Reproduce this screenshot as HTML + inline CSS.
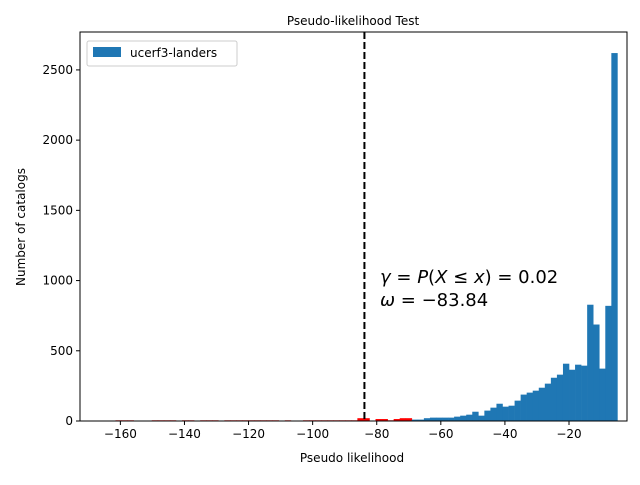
<!DOCTYPE html>
<html><head><meta charset="utf-8"><style>
body{margin:0;background:#fff;}
svg text{font-family:"DejaVu Sans","Liberation Sans",sans-serif;}
</style></head><body>
<svg id="chart" width="640" height="480" xmlns="http://www.w3.org/2000/svg"></svg>
<script>
const counts=[0,5,5,5,0,0,0,5,5,5,5,0,5,5,0,5,5,5,0,5,5,5,5,5,5,5,5,5,0,5,0,0,5,5,5,5,5,5,5,5,5,20,20,0,14,14,5,14,20,20,10,10,20,24,24,24,24,31,38,45,66,38,74,95,123,102,109,145,188,202,216,237,266,308,330,408,365,401,394,828,687,373,820,2620];
const binRight=-4.9;
const binWidth=1.887;
const redThreshold=-70;
const xTicks=[-160,-140,-120,-100,-80,-60,-40,-20];
const yTicks=[0,500,1000,1500,2000,2500];
const observed=-83.84;
const NS="http://www.w3.org/2000/svg";
const svg=document.getElementById('chart');
const L=80,R=627,T=32,B=421;
const xmin=-172.6,xmax=-1.9,ymax=2770;
const sx=v=>L+(v-xmin)/(xmax-xmin)*(R-L);
const sy=v=>B-v/ymax*(B-T);
function mk(tag,attrs,parent){const e=document.createElementNS(NS,tag);for(const k in attrs)e.setAttribute(k,attrs[k]);(parent||svg).appendChild(e);return e;}
const n=counts.length;
counts.forEach((c,i)=>{
  const x0=binRight-(n-i)*binWidth,x1=x0+binWidth;
  if(c<=0)return;
  const r=mk('rect',{x:sx(x0),y:sy(c),width:sx(x1)-sx(x0)+0.3,height:sy(0)-sy(c),fill:x0<redThreshold?'#ff0000':'#1f77b4'});
  
  
});
const vl=mk('line',{x1:sx(observed),x2:sx(observed),y1:T,y2:B,stroke:'#000','stroke-width':2,'stroke-dasharray':'7,3'});


const frame=mk('rect',{x:L,y:T,width:R-L,height:B-T,fill:'none',stroke:'#000','stroke-width':1});


xTicks.forEach(t=>{
  const x=sx(t);
  mk('line',{x1:x,x2:x,y1:B,y2:B+4,stroke:'#000'});
  const tx=mk('text',{x:x,y:B+17,'text-anchor':'middle','font-size':12});
  tx.textContent='\u2212'+Math.abs(t);
  
  
});
yTicks.forEach(t=>{
  const y=sy(t);
  mk('line',{x1:L-4,x2:L,y1:y,y2:y,stroke:'#000'});
  const tx=mk('text',{x:L-7,y:y+4,'text-anchor':'end','font-size':12});
  tx.textContent=t;
  
  
});
</script>
<svg width="640" height="480" style="position:absolute;left:0;top:0" xmlns="http://www.w3.org/2000/svg">
<text x="353" y="25" text-anchor="middle" font-size="12" style="font-family:'DejaVu Sans',sans-serif">Pseudo-likelihood Test</text>
<text x="352" y="462" text-anchor="middle" font-size="12" style="font-family:'DejaVu Sans',sans-serif">Pseudo likelihood</text>
<text transform="translate(25,227) rotate(-90)" text-anchor="middle" font-size="12" style="font-family:'DejaVu Sans',sans-serif">Number of catalogs</text>
<g>
<rect x="87" y="41" width="150" height="25" rx="2" fill="#fff" stroke="#ccc"/>
<rect x="93" y="47" width="28" height="10" fill="#1f77b4"/>
<text x="130" y="57" font-size="12" style="font-family:'DejaVu Sans',sans-serif">ucerf3-landers</text>
</g>
<text x="380" y="283" font-size="18" style="font-family:'DejaVu Sans',sans-serif"><tspan font-style="italic">γ</tspan> = <tspan font-style="italic">P</tspan>(<tspan font-style="italic">X</tspan> ≤ <tspan font-style="italic">x</tspan>) = 0.02</text>
<text x="380" y="306" font-size="18" style="font-family:'DejaVu Sans',sans-serif"><tspan font-style="italic">ω</tspan> = −83.84</text>
</svg>
</body></html>
